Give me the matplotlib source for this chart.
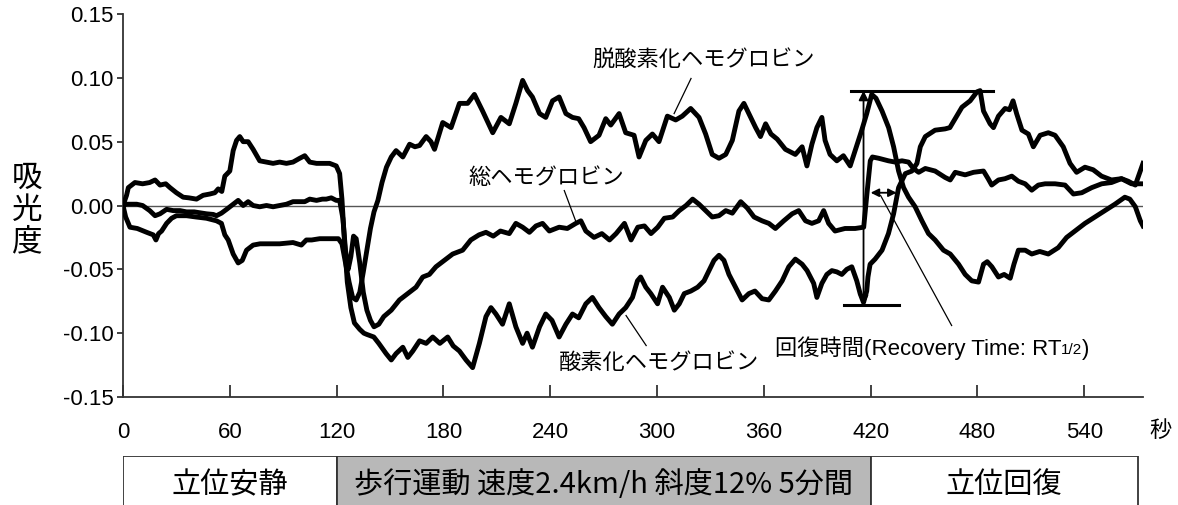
import matplotlib
matplotlib.use("Agg")
import matplotlib.pyplot as plt

plt.rcParams['font.family'] = ['Liberation Sans', 'Noto Sans CJK JP']
plt.rcParams['axes.unicode_minus'] = False

# --- data (seconds, absorbance) ---
oxy_t = [0, 2, 3, 6.7, 11, 15, 18, 20.8, 24, 26.4, 30, 33.8, 37, 41.3, 45, 48.8, 51.6, 53.5,
         55.5, 57.2, 60, 61.9, 63.8, 65.6, 67.5, 70.3, 73.1, 76.8, 80.6, 84.3, 88, 91.8, 95.5,
         99.3, 102.1, 104.9, 108.7, 112.3, 116.1, 119.8, 121.7, 123, 124.5, 126, 128, 130, 133,
         135.3, 137, 140.9, 143.7, 147.8, 150.7, 153.4, 157.2, 160, 162.8, 166.6, 170.3, 174,
         178, 182.4, 185.5, 189, 192.7, 196.4, 200.2, 203.9, 206.7, 209.5, 213.2, 217, 220.7,
         224.5, 227, 230, 234, 237.5, 241, 245, 248.8, 252.5, 256, 260, 263.7, 267.4, 271.2,
         274.9, 278.7, 282.4, 286.2, 289, 290.8, 293.7, 296.5, 300.3, 303.1, 306.9, 309.7, 312.5,
         315.3, 319, 322.8, 326.4, 329.2, 332, 334.8, 337.6, 340.4, 344.1, 347.8, 351.6, 355,
         359, 362.8, 366.5, 370.3, 374, 377.7, 381.5, 384.3, 388, 389.8, 392.6, 395.4, 398.2,
         401, 403.8, 406.6, 409.4, 412.2, 414.1, 416, 417.8, 418.5, 419.7, 422.5, 426.4, 430,
         432.9, 435.7, 439.5, 443.2, 446, 447.9, 450.7, 456.2, 461.8, 464.5, 467.5, 471.3, 475.9,
         479.7, 481.5, 483.4, 487.1, 489, 491.8, 495.5, 498, 500, 502, 505, 508.6, 511.4, 515.2,
         519.8, 523.6, 528.2, 532, 535.7, 540.4, 545, 549.7, 555.3, 560.9, 564.7, 568.7, 571.5, 573]
oxy_v = [0.0, 0.008, 0.014, 0.018, 0.017, 0.018, 0.020, 0.016, 0.017, 0.014, 0.010, 0.0065, 0.006,
         0.005, 0.008, 0.009, 0.010, 0.013, 0.011, 0.023, 0.027, 0.043, 0.051, 0.054, 0.050, 0.050,
         0.044, 0.035, 0.034, 0.033, 0.034, 0.033, 0.034, 0.037, 0.039, 0.034, 0.033, 0.033, 0.033,
         0.031, 0.025, 0.005, -0.030, -0.060, -0.080, -0.092, -0.097, -0.100, -0.101, -0.103,
         -0.108, -0.116, -0.121, -0.116, -0.111, -0.119, -0.114, -0.106, -0.108, -0.103, -0.108,
         -0.103, -0.110, -0.114, -0.121, -0.127, -0.108, -0.087, -0.080, -0.085, -0.093, -0.077,
         -0.095, -0.108, -0.100, -0.111, -0.095, -0.085, -0.090, -0.103, -0.093, -0.085, -0.088,
         -0.077, -0.072, -0.080, -0.087, -0.093, -0.085, -0.080, -0.072, -0.059, -0.056, -0.064,
         -0.069, -0.077, -0.064, -0.072, -0.082, -0.077, -0.069, -0.067, -0.064, -0.059, -0.051,
         -0.043, -0.039, -0.043, -0.054, -0.064, -0.074, -0.069, -0.067, -0.073, -0.074, -0.067,
         -0.059, -0.048, -0.042, -0.046, -0.051, -0.061, -0.072, -0.061, -0.054, -0.051, -0.052,
         -0.054, -0.050, -0.048, -0.059, -0.069, -0.076, -0.067, -0.056, -0.046, -0.042, -0.035,
         -0.022, -0.0065, 0.014, 0.025, 0.027, 0.033, 0.046, 0.054, 0.059, 0.060, 0.061, 0.068,
         0.077, 0.082, 0.089, 0.090, 0.074, 0.064, 0.061, 0.070, 0.076, 0.075, 0.082, 0.072, 0.059,
         0.056, 0.046, 0.055, 0.057, 0.055, 0.046, 0.033, 0.026, 0.030, 0.028, 0.023, 0.020, 0.021,
         0.019, 0.016, 0.027, 0.033]

total_t = [0, 2, 4, 7.7, 11, 15, 18, 20.8, 24.5, 28.2, 32, 35.7, 40, 46.9, 50.7, 52.5, 55.3, 58.2,
           61.9, 64.7, 67.5, 70.3, 73.1, 76.8, 80.6, 84.3, 88, 91.8, 95.5, 99.3, 102.1, 104.9,
           108.7, 112, 114.2, 117, 119.8, 121.7, 123.5, 125, 126.5, 128, 129.5, 131, 133, 135, 137,
           139, 141, 143.7, 146.5, 150.7, 155.3, 160, 164.6, 168.4, 172.1, 175.8, 180.5, 185.2,
           190.8, 195.4, 200, 203.9, 208, 212, 217, 220.7, 224.5, 228.3, 232, 235.7, 239.5, 245,
           249.6, 254.4, 257.2, 260, 264.6, 269, 273.3, 277, 281.7, 285.4, 289.2, 292.9, 296.6,
           300.4, 304.1, 308.8, 312.5, 316.3, 320, 323.6, 327.3, 331, 334.8, 338.6, 342.3, 347,
           350.7, 354.5, 359, 362.8, 366.5, 371.2, 375.9, 379.6, 383.4, 387, 390.8, 393.6, 396.4,
           400, 405.6, 411.3, 416.1, 417.9, 419.8, 421, 424.5, 430, 433.8, 437.6, 441.3, 444, 447,
           450.7, 456.2, 461.8, 464.7, 467.5, 473.1, 477.8, 483.4, 486, 488, 491.8, 495.5, 499.3,
           503, 506.8, 510.5, 514.2, 518, 523.6, 529.2, 533.9, 538.6, 544.2, 549.8, 555.3, 560.9,
           566.5, 573]
total_v = [0.0, 0.001, 0.001, 0.001, 0.0, -0.004, -0.008, -0.0065, -0.003, -0.004, -0.004, -0.005,
           -0.005, -0.0065, -0.007, -0.008, -0.006, -0.003, 0.001, 0.004, 0.0, 0.003, 0.0, -0.001,
           0.0, -0.001, 0.0, 0.001, 0.003, 0.003, 0.003, 0.005, 0.004, 0.005, 0.005, 0.006, 0.004,
           0.004, -0.010, -0.035, -0.050, -0.040, -0.024, -0.026, -0.045, -0.068, -0.082, -0.090,
           -0.095, -0.093, -0.087, -0.082, -0.074, -0.069, -0.064, -0.056, -0.054, -0.048, -0.043,
           -0.038, -0.035, -0.027, -0.023, -0.021, -0.024, -0.020, -0.022, -0.014, -0.017, -0.021,
           -0.016, -0.014, -0.020, -0.017, -0.018, -0.014, -0.012, -0.020, -0.025, -0.022, -0.027,
           -0.022, -0.014, -0.027, -0.017, -0.016, -0.022, -0.017, -0.010, -0.009, -0.004, 0.0,
           0.005, 0.001, -0.004, -0.009, -0.008, -0.004, -0.006, 0.003, -0.002, -0.009, -0.012,
           -0.014, -0.018, -0.012, -0.0065, -0.004, -0.012, -0.014, -0.012, -0.004, -0.014, -0.020,
           -0.018, -0.018, -0.017, 0.009, 0.035, 0.038, 0.037, 0.035, 0.034, 0.035, 0.034, 0.029,
           0.026, 0.029, 0.027, 0.022, 0.020, 0.026, 0.024, 0.026, 0.027, 0.021, 0.016, 0.020,
           0.021, 0.023, 0.019, 0.017, 0.012, 0.016, 0.017, 0.017, 0.016, 0.009, 0.010, 0.014,
           0.017, 0.018, 0.021, 0.017, 0.017]

deoxy_t = [0, 1.5, 3.9, 8, 13.3, 17, 18.5, 20, 21.7, 24.5, 27.3, 30, 35.7, 41, 46.9, 52.5, 55.3,
           57.2, 59.1, 61.9, 64.7, 67, 69.4, 73.1, 77, 80.6, 88, 95.5, 100.2, 103, 106, 110.5, 114,
           117.9, 121, 123, 125, 127, 129, 131, 133, 135, 137, 139, 141, 143.2, 145.5, 148, 150.7,
           153.4, 157.2, 161, 164, 166.6, 170.3, 173, 175, 179.6, 184.3, 189, 193.6, 197.4, 202,
           205, 207.7, 212.3, 217, 220.7, 224.5, 227.3, 230, 234, 237.5, 241.3, 245, 248.8, 252.5,
           256, 259, 262.7, 267.4, 271.2, 274, 278.7, 282.4, 287.1, 289.9, 293.7, 297.4, 301.1,
           305.8, 310.5, 314.2, 318.9, 323.6, 327.3, 331, 334.8, 338.6, 342.3, 346, 348.8, 351.6,
           355.4, 358.1, 361, 364, 367.5, 372.1, 377.7, 381.5, 384.2, 387, 389.8, 392.6, 394.4,
           397.2, 401, 404.7, 408.5, 411.3, 415, 417.8, 420.6, 423, 426.4, 430.1, 432.9, 435.7,
           438.5, 441.3, 445, 448.8, 452.5, 456.2, 460.9, 464.7, 469.4, 473.1, 476.8, 480.6, 483.4,
           485.5, 488.1, 491.8, 495, 498.4, 500.5, 503, 506.8, 510.5, 515, 519.8, 525.4, 530.1,
           534.8, 540.4, 546, 551.6, 557.2, 562.8, 565.6, 568.7, 571.5, 573]
deoxy_v = [0.0, -0.009, -0.017, -0.018, -0.021, -0.023, -0.027, -0.022, -0.020, -0.014, -0.010,
           -0.008, -0.008, -0.009, -0.010, -0.012, -0.014, -0.023, -0.027, -0.038, -0.045, -0.043,
           -0.035, -0.031, -0.030, -0.030, -0.030, -0.029, -0.031, -0.027, -0.027, -0.026, -0.026,
           -0.026, -0.026, -0.030, -0.045, -0.060, -0.072, -0.074, -0.068, -0.052, -0.035, -0.018,
           -0.005, 0.004, 0.018, 0.030, 0.038, 0.043, 0.038, 0.048, 0.046, 0.047, 0.054, 0.050,
           0.044, 0.065, 0.061, 0.080, 0.080, 0.087, 0.074, 0.065, 0.057, 0.069, 0.064, 0.080, 0.098,
           0.090, 0.085, 0.072, 0.069, 0.082, 0.085, 0.072, 0.069, 0.068, 0.061, 0.050, 0.055,
           0.068, 0.063, 0.072, 0.057, 0.055, 0.038, 0.051, 0.056, 0.050, 0.070, 0.067, 0.070,
           0.076, 0.069, 0.056, 0.040, 0.037, 0.040, 0.051, 0.074, 0.080, 0.072, 0.061, 0.054,
           0.064, 0.056, 0.052, 0.044, 0.040, 0.046, 0.031, 0.048, 0.061, 0.069, 0.051, 0.040,
           0.035, 0.039, 0.031, 0.043, 0.059, 0.072, 0.087, 0.084, 0.074, 0.061, 0.046, 0.027,
           0.014, 0.0065, -0.001, -0.012, -0.022, -0.027, -0.035, -0.038, -0.046, -0.054, -0.059,
           -0.060, -0.046, -0.044, -0.048, -0.056, -0.054, -0.057, -0.046, -0.035, -0.035, -0.038,
           -0.036, -0.038, -0.033, -0.025, -0.020, -0.014, -0.009, -0.004, 0.001, 0.0065, 0.005,
           -0.001, -0.012, -0.016]

x_ticks = [0, 60, 120, 180, 240, 300, 360, 420, 480, 540]
y_ticks = [-0.15, -0.10, -0.05, 0.00, 0.05, 0.10, 0.15]

# recovery-time markers
rt_peak = 0.090
rt_trough = -0.078
rt_start = 416
rt_half = (420, 434.6, 0.010)

phase_edges = [0, 120, 420, 570]
phase_names = ['立位安静', '歩行運動 速度2.4km/h 斜度12% 5分間', '立位回復']
phase_colors = ['white', '#b8b8b8', 'white']

# --- figure ---
fig = plt.figure(figsize=(11.78, 5.05), dpi=100)
ax = fig.add_axes([123 / 1178, 1 - 397 / 505, 1020 / 1178, 383 / 505])

for t, v in [(oxy_t, oxy_v), (total_t, total_v), (deoxy_t, deoxy_v)]:
    ax.plot(t, v, color='black', lw=3.5, solid_joinstyle='round', zorder=3)

ax.axhline(0, color='#555555', lw=1.0, zorder=1)

ax.set_xlim(0, 573)
ax.set_ylim(-0.15, 0.15)
ax.set_xticks(x_ticks)
ax.set_yticks(y_ticks)
ax.set_yticklabels([f'{v:.2f}' for v in y_ticks])
for s in ['top', 'right']:
    ax.spines[s].set_visible(False)
for s in ['left', 'bottom']:
    ax.spines[s].set_color('#333333')
    ax.spines[s].set_linewidth(1.3)
ax.tick_params(axis='x', direction='in', length=9, width=1.3, color='#333333',
               labelsize=16, pad=18)
ax.tick_params(axis='y', direction='out', length=4, width=1.3, color='#333333',
               labelsize=16, pad=3)

# y label, stacked characters
fig.text(27 / 1178, 1 - 210 / 505, '吸\n光\n度', ha='center', va='center',
         fontsize=22, family=['Noto Sans CJK JP'], linespacing=1.05)
fig.text(1160 / 1178, 1 - 430 / 505, '秒', ha='center', va='center',
         fontsize=16, family=['Noto Sans CJK JP'])

# series labels with leader lines
lab_kw = dict(fontsize=16, family=['Noto Sans CJK JP'], ha='center', va='center')
ax.text(326, 0.1136, '脱酸素化ヘモグロビン', **lab_kw)
ax.plot([319.1, 309.6], [0.0995, 0.072], color='black', lw=0.9)
ax.text(238, 0.022, '総ヘモグロビン', **lab_kw)
ax.plot([247.9, 254.6], [0.0117, -0.0133], color='black', lw=0.9)
ax.text(301, -0.123, '酸素化ヘモグロビン', **lab_kw)
ax.plot([282.6, 293.9], [-0.0862, -0.1097], color='black', lw=0.9)

# recovery time brackets and arrows
ax.plot([408.8, 489], [rt_peak, rt_peak], color='black', lw=2.2, zorder=4)
ax.plot([405, 435.7], [rt_trough, rt_trough], color='black', lw=2.2, zorder=4)
ax.annotate('', xy=(rt_start, rt_peak), xytext=(rt_start, rt_trough),
            arrowprops=dict(arrowstyle='<|-|>', color='black', lw=1.3,
                            mutation_scale=14, shrinkA=0, shrinkB=0), zorder=4)
ax.annotate('', xy=(rt_half[1], rt_half[2]), xytext=(rt_half[0], rt_half[2]),
            arrowprops=dict(arrowstyle='<|-|>', color='black', lw=1.3,
                            mutation_scale=12, shrinkA=0, shrinkB=0), zorder=4)
ax.plot([425.6, 465.5], [0.0078, -0.094], color='black', lw=0.9)

rt1 = ax.text(366, -0.112, '回復時間(Recovery Time: RT', fontsize=16, ha='left',
              va='center')
rt2 = ax.annotate('1/2', xy=(1, 0.12), xycoords=rt1, fontsize=11, ha='left', va='bottom')
ax.annotate(')', xy=(1, 0), xycoords=(rt2, rt1), fontsize=16, ha='left', va='bottom')

# phase bar below the time axis
axb = fig.add_axes([123 / 1178, -0.03, 1020 / 1178, 0.127])
axb.set_xlim(0, 573)
axb.set_ylim(0, 1)
axb.axis('off')
for i, name in enumerate(phase_names):
    left, right = phase_edges[i], phase_edges[i + 1]
    axb.barh(0.5, right - left, left=left, height=1.0, color=phase_colors[i],
             edgecolor='#333333', lw=1.3)
    axb.text((left + right) / 2, 0.55, name, ha='center', va='center', fontsize=21,
             family=['Noto Sans CJK JP'])

fig.savefig('out.png', dpi=100)
